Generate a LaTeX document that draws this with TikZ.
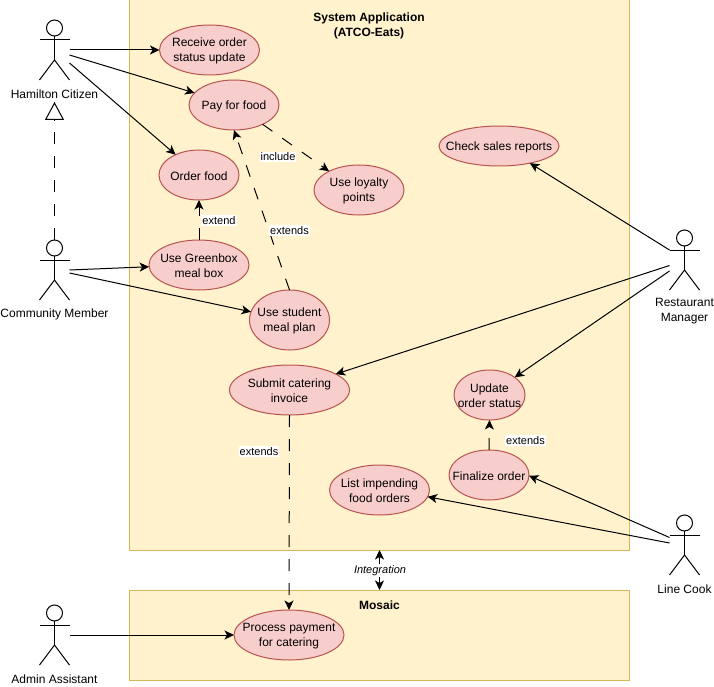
\documentclass[tikz,border=0pt]{standalone}
\usepackage{fontspec}
\setmainfont{Liberation Sans}
\usetikzlibrary{arrows.meta,shapes.geometric}
\definecolor{boxfill}{HTML}{FFF2CC}
\definecolor{boxline}{HTML}{D6B656}
\definecolor{ucfill}{HTML}{F8CECC}
\definecolor{ucline}{HTML}{B85450}
\tikzset{
  sysbox/.style={draw=boxline,fill=boxfill,line width=1pt,rectangle,inner sep=0pt,outer sep=0pt},
  usecase/.style={draw=ucline,fill=ucfill,line width=1pt,ellipse,inner sep=0pt,outer sep=0pt},
  actorbox/.style={rectangle,draw=none,inner sep=0pt,outer sep=0pt,minimum width=30pt,minimum height=60pt},
  actorline/.style={draw=black,line width=1pt},
  tip/.style={},
  conn/.style={draw=black,line width=1pt,-{Stealth[length=9.5pt,width=9pt,inset=2.5pt]}},
  dconn/.style={conn,dash pattern=on 12pt off 12pt},
  elabel/.style={fill=white,inner sep=1pt,font=\fontsize{11}{13}\selectfont},
  txt/.style={align=center,inner sep=0pt,font=\fontsize{12}{15}\selectfont},
  ttl/.style={txt,font=\fontsize{12}{15}\selectfont\bfseries},
}
\newcommand{\mkactor}[3]{%
  \node[actorbox] (#1) at (#2,#3) {};
  \draw[actorline] (#2,#3-22) circle (8pt);
  \draw[actorline] (#2,#3-14) -- (#2,#3+10);
  \draw[actorline] (#2-15,#3-10) -- (#2+15,#3-10);
  \draw[actorline] (#2-15,#3+30) -- (#2,#3+10) -- (#2+15,#3+30);
}
\newcommand{\mkuc}[6]{%
  \node[usecase,minimum width=#4*2pt,minimum height=#5*2pt,label={[txt,yshift=-1pt]center:{#6}}] (#1) at (#2,#3) {};
}
\begin{document}
\begin{tikzpicture}[x=1pt,y=-1pt]
\useasboundingbox[fill=white] (0,0) rectangle (714,687);
\node[sysbox,minimum width=500pt,minimum height=550pt] (sys) at (379.5,275) {};
\node[sysbox,minimum width=500pt,minimum height=90pt] (mos) at (379.5,635) {};
\node[ttl] (systitle) at (369,25.5) {System Application\\(ATCO-Eats)};
\node[ttl] (mostitle) at (379.5,605) {Mosaic};

\mkuc{rec}{209.5}{50}{50}{25}{Receive order\\status update}
\mkuc{pay}{234}{105}{45}{25}{Pay for food}
\mkuc{ord}{199}{175}{40}{25}{Order food}
\mkuc{grn}{199}{265}{50}{25}{Use Greenbox\\meal box}
\mkuc{stu}{289.5}{320}{40}{30}{Use student\\meal plan}
\mkuc{loy}{359}{190}{45}{25}{Use loyalty\\points}
\mkuc{chk}{499}{146}{60}{20}{Check sales reports}
\mkuc{sub}{289.5}{390}{60}{25}{Submit catering\\invoice}
\mkuc{upd}{489.5}{395}{35.5}{25}{Update\\order status}
\mkuc{fin}{489}{475}{40}{25}{Finalize order}
\mkuc{lst}{379.5}{490}{50}{25}{List impending\\food orders}
\mkuc{prc}{289}{635}{55}{25}{Process payment\\for catering}

\mkactor{hc}{54.5}{50}
\mkactor{cm}{54.5}{270}
\mkactor{rm}{684.5}{260}
\mkactor{lc}{684.5}{545}
\mkactor{aa}{54.5}{635}

\node[txt] (hcl) at (54.5,94) {Hamilton Citizen};
\node[txt] (cml) at (54.5,314) {Community Member};
\node[txt] (rml) at (684.5,311) {Restaurant\\Manager};
\node[txt] (lcl) at (684.5,589) {Line Cook};
\node[txt] (aal) at (54.5,679) {Admin Assistant};

\coordinate (hcA) at (69.5,55);
\coordinate (hcB) at (69.5,63);
\coordinate (cmA) at (69.5,270);
\coordinate (cmB) at (69.5,273);
\coordinate (rmA) at (669.5,250);
\coordinate (rmB) at (669.5,265.5);
\coordinate (rmC) at (669.5,271);
\coordinate (lcA) at (669.5,537.5);
\coordinate (lcB) at (669.5,543);
\coordinate (cmH) at (54.5,240);
\coordinate (hcT) at (54.5,102);

\draw[conn] (hc.east) -- (rec.west);
\draw[conn] (hcA) -- (pay.163.3);
\draw[conn] (hcB) -- (ord.139.5);
\draw[conn] (cmA) -- (grn.182.3);
\draw[conn] (cmB) -- (stu.168.4);
\draw[conn] (aa.east) -- (prc.west);
\draw[conn] (rmA) -- (chk.-29);
\draw[conn] (rmB) -- (sub.19.4);
\draw[conn] (rmC) -- (upd.35);
\draw[conn] (lcA) -- (fin.-1.4);
\draw[conn] (lcB) -- (lst.-8);

\draw[dconn] (grn.north) -- (ord.south);
\draw[dconn] (stu.north) -- (pay.south);
\draw[dconn] (pay.-34.6) -- (loy.148);
\draw[dconn] (fin.north) -- (upd.south);
\draw[dconn] (sub.south) -- (prc.north);
\draw[line width=1pt,dash pattern=on 12pt off 12pt,-{Triangle[open,length=18pt,width=19pt]}] (cmH) -- (hcT);
\draw[conn,{Stealth[length=9.5pt,width=9pt,inset=2.5pt]}-{Stealth[length=9.5pt,width=9pt,inset=2.5pt]}] (379.5,550) -- (379.5,590);

\node[elabel] (l1) at (219,220.5) {extend};
\node[elabel] (l2) at (289.5,230.5) {extends};
\node[elabel] (l3) at (278,157) {include};
\node[elabel] (l4) at (525.5,440.5) {extends};
\node[elabel] (l5) at (259,451.5) {extends};
\node[elabel,font=\fontsize{11}{13}\selectfont\itshape] (l6) at (380,570.5) {Integration};
\end{tikzpicture}
\end{document}
